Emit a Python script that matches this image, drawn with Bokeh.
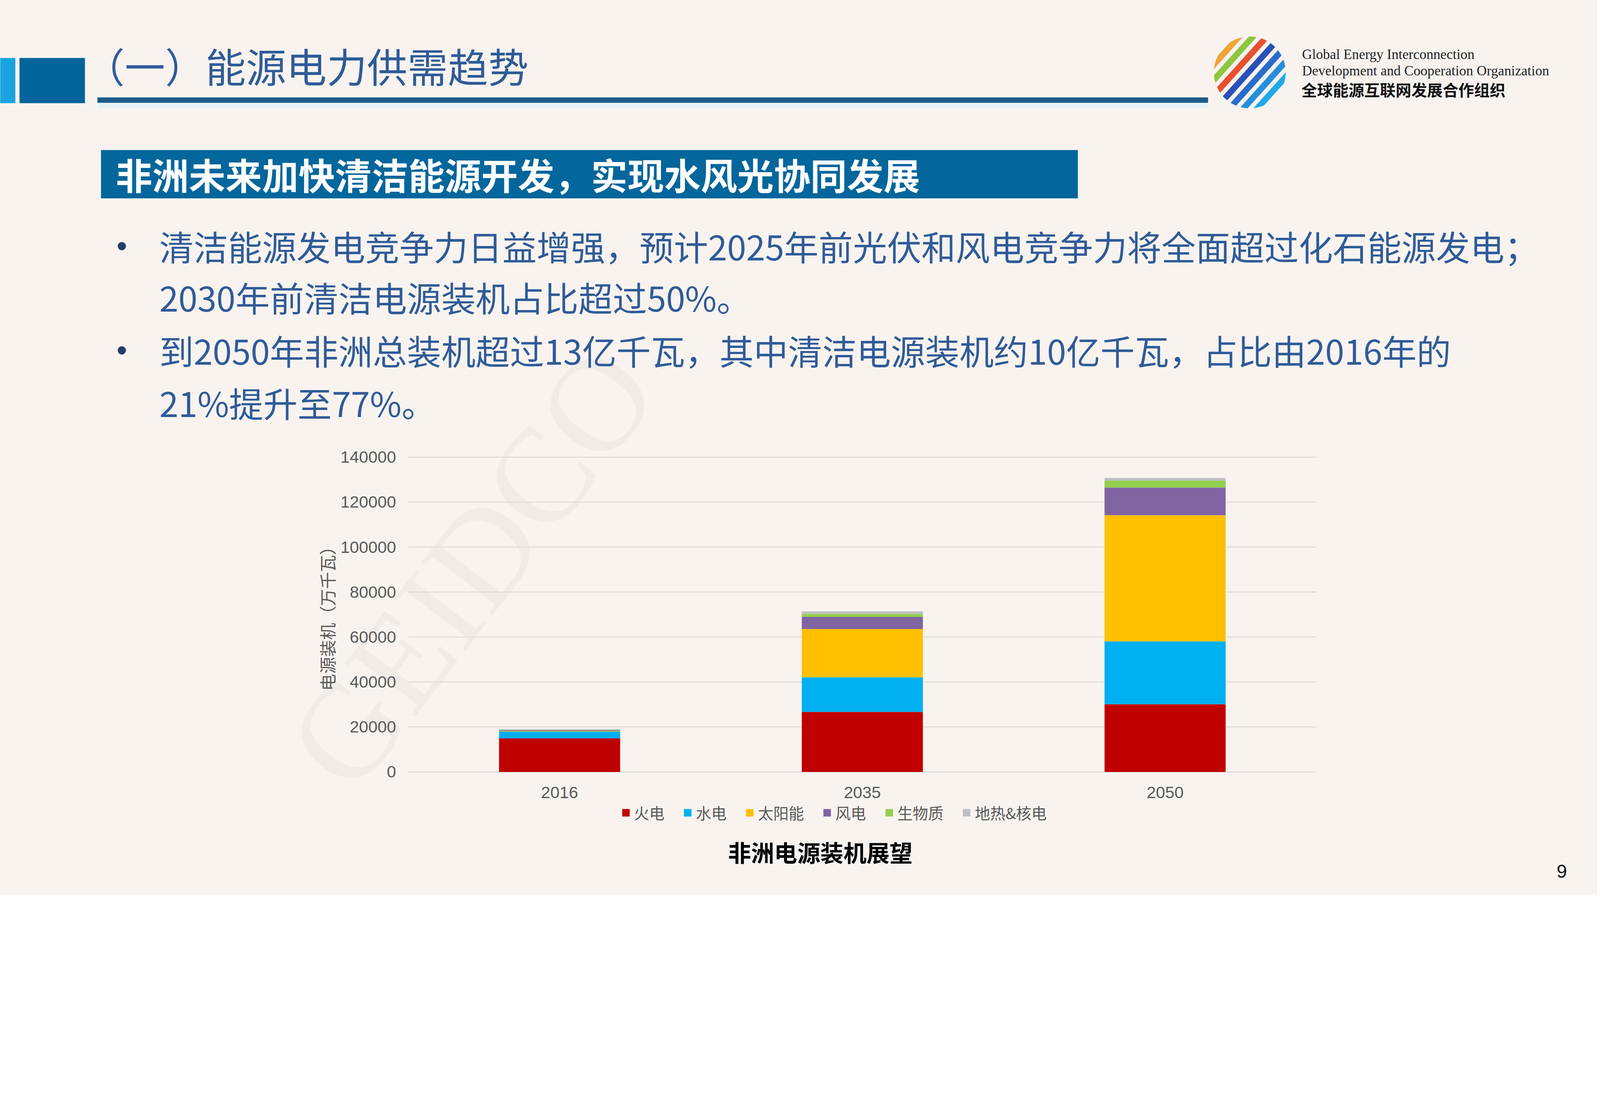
import numpy as np
from bokeh.plotting import figure
from bokeh.models import (Range1d, ColumnDataSource, Legend, LegendItem, LinearAxis,
                          Label, BoxAnnotation, PolyAnnotation, FixedTicker, BasicTickFormatter)
from bokeh.embed import file_html
from bokeh.resources import INLINE

# ---------------- data ----------------
years = ["2016", "2035", "2050"]
series_labels = ["火电", "水电", "太阳能", "风电", "生物质", "地热&核电"]
series_keys = ["thermal", "hydro", "solar", "wind", "biomass", "geo_nuclear"]
thermal = [14900, 26700, 30100]
hydro = [3100, 15400, 27950]
solar = [250, 21450, 56100]
wind = [300, 5350, 12350]
biomass = [150, 1350, 3050]
geo_nuclear = [300, 1150, 1150]
y_tick_values = [0, 20000, 40000, 60000, 80000, 100000, 120000, 140000]

chart_title = "非洲电源装机展望"
y_axis_title = "电源装机（万千瓦）"
page_title = "（一）能源电力供需趋势"
section_title = "非洲未来加快清洁能源开发，实现水风光协同发展"
bullet_lines = [
    "清洁能源发电竞争力日益增强，预计2025年前光伏和风电竞争力将全面超过化石能源发电；",
    "2030年前清洁电源装机占比超过50%。",
    "到2050年非洲总装机超过13亿千瓦，其中清洁电源装机约10亿千瓦，占比由2016年的",
    "21%提升至77%。",
]
org_lines = ["Global Energy Interconnection",
             "Development and Cooperation Organization",
             "全球能源互联网发展合作组织"]
page_number = "9"

colors = ["#C00000", "#00B0F0", "#FFC000", "#8064A2", "#92D050", "#BFBFBF"]

# ---------------- layout (measured in screenshot px, converted to css px) ----------------
f = 1.218                      # observed screenshot px per css px
def X(v): return v / f - 8     # screenshot coordinate -> canvas coordinate
def L(v): return v / f         # screenshot length -> css length
def F(v): return f"{v / f:.1f}px"

W, H = int(5000 / f - 16), int(2812 / f - 16)
FL, FR, FT, FB = X(1282), X(4114), X(1435), X(2417)   # chart plot area
YMIN, YMAX = 0, 140000
BG = "#F8F3EF"
CJK = "Noto Sans CJK SC"
LAT = "Liberation Sans"

n = len(years)
sw = (FR - FL) / n
k = (YMAX - YMIN) / (FB - FT)

xpos = [i + 0.5 for i in range(n)]
src = ColumnDataSource(dict(x=xpos, thermal=thermal, hydro=hydro, solar=solar,
                            wind=wind, biomass=biomass, geo_nuclear=geo_nuclear))

p = figure(width=W, height=H, x_range=Range1d(0, W), y_range=Range1d(H, 0),
           output_backend="svg", toolbar_location=None, title=None, min_border=0,
           x_axis_type=None, y_axis_type=None)
p.extra_x_ranges = {"cx": Range1d(-FL / sw, n + (W - FR) / sw)}
p.extra_y_ranges = {"vy": Range1d(YMIN - (H - FB) * k, YMAX + FT * k)}
p.background_fill_color = BG
p.border_fill_color = BG
p.outline_line_color = None
p.grid.visible = False

def lab(text, x, y, size, color, font=CJK, style="normal", align="left", base="middle", **kw):
    p.add_layout(Label(text=text, x=X(x), y=X(y), text_font=font, text_font_size=F(size),
                       text_color=color, text_font_style=style, text_align=align,
                       text_baseline=base, **kw))

def box(l, r, t, b, color):
    p.add_layout(BoxAnnotation(left=X(l), right=X(r), top=X(t), bottom=X(b), fill_color=color,
                               fill_alpha=1, line_color=None, level="underlay"))

# watermark
lab("GEIDCO", 1480, 1780, 420, "#F1EBE6", font="Liberation Serif", align="center",
    angle=0.92, level="underlay")

# gridlines of the chart
p.segment(x0=0, x1=n, y0=y_tick_values, y1=y_tick_values, x_range_name="cx",
          y_range_name="vy", line_color="#D9D9D9", line_width=L(3))

renderers = p.vbar_stack(series_keys, x="x", width=0.4, source=src,
                         fill_color=colors, line_color=None,
                         x_range_name="cx", y_range_name="vy")

# axes
yax = LinearAxis(y_range_name="vy", fixed_location=FL, bounds=(YMIN, YMAX),
                 ticker=FixedTicker(ticks=y_tick_values),
                 formatter=BasicTickFormatter(use_scientific=False))
xax = LinearAxis(x_range_name="cx", fixed_location=FB, ticker=FixedTicker(ticks=xpos),
                 major_label_overrides={x: y for x, y in zip(xpos, years)})
for ax in (xax, yax):
    ax.axis_line_color = None
    ax.major_tick_line_color = None
    ax.minor_tick_line_color = None
    ax.major_label_text_font = LAT
    ax.major_label_text_font_size = F(52)
    ax.major_label_text_color = "#595959"
yax.major_label_standoff = int(L(31))
xax.major_label_standoff = int(L(40))
yax.axis_label = y_axis_title
yax.axis_label_text_font = CJK
yax.axis_label_text_font_size = F(53)
yax.axis_label_text_font_style = "normal"
yax.axis_label_text_color = "#595959"
yax.axis_label_standoff = 0
p.add_layout(yax, "left")
p.add_layout(xax, "below")

leg_h = 1.42 * L(48)
legend = Legend(items=[LegendItem(label=l, renderers=[r]) for l, r in zip(series_labels, renderers)],
                orientation="horizontal",
                location=(X(1946), H - (X(2545) + leg_h / 2)),
                glyph_width=int(L(30)), glyph_height=int(L(30)),
                label_standoff=int(L(12)), spacing=int(L(58)), padding=0, margin=0,
                background_fill_alpha=0, border_line_color=None,
                label_text_font=CJK, label_text_font_size=F(48), label_text_color="#595959")
p.add_layout(legend)

# header
box(-20, 57, 190, 331, "#1AA3E0")
box(70, 274, 190, 331, "#03649C")
box(313, 3776, 313, 330, "#1B5B88")
box(313, 3776, 330, 346, "#E6F2F8")
lab(page_title, 272, 212, 126, "#2F5B98")

# logo globe
gx, gy, rad = X(3906), X(235), L(112)
theta = np.deg2rad(48)
nv = np.array([np.sin(theta), np.cos(theta)])
tv = np.array([np.cos(theta), -np.sin(theta)])
band_colors = ["#F0A43A", "#8DC63F", "#E8502E", "#2850B8", "#2A6CCB", "#258EDC", "#1FAAE8"]
edges = np.linspace(-rad, rad, len(band_colors) + 1)
for i, c in enumerate(band_colors):
    a, b_ = edges[i] + L(3), edges[i + 1] - L(10)
    u = np.linspace(a, b_, 30)
    half = np.sqrt(np.clip(rad ** 2 - u ** 2, 0, None))
    us = np.concatenate([u, u[::-1]])
    vs = np.concatenate([half, -half[::-1]])
    xs = gx + us * nv[0] + vs * tv[0]
    ys = gy + us * nv[1] + vs * tv[1]
    p.add_layout(PolyAnnotation(xs=list(xs), ys=list(ys), fill_color=c, fill_alpha=1,
                                line_color=None))
lab(org_lines[0], 4069, 178, 43.5, "#222222", font="Liberation Serif")
lab(org_lines[1], 4069, 230, 43.5, "#222222", font="Liberation Serif")
lab(org_lines[2], 4067, 288, 49, "#111111", style="bold")

# section box
box(324, 3370, 477, 628, "#03669C")
lab(section_title, 370, 551, 114, "#FFFFFF", style="bold")

# bullets
ys_lines = [775, 934, 1100, 1263]
for txt, yy in zip(bullet_lines, ys_lines):
    lab(txt, 506, yy, 107, "#2F5B98")
for yy in (ys_lines[0], ys_lines[2]):
    lab("•", 389, yy, 95, "#243F66", font=LAT, align="center")

# chart title & page number
lab(chart_title, 2567, 2666, 72, "#000000", style="bold", align="center")
lab(page_number, 4879, 2727, 58, "#111111", font=LAT, align="center")

open("out.html", "w").write(file_html(p, INLINE))
